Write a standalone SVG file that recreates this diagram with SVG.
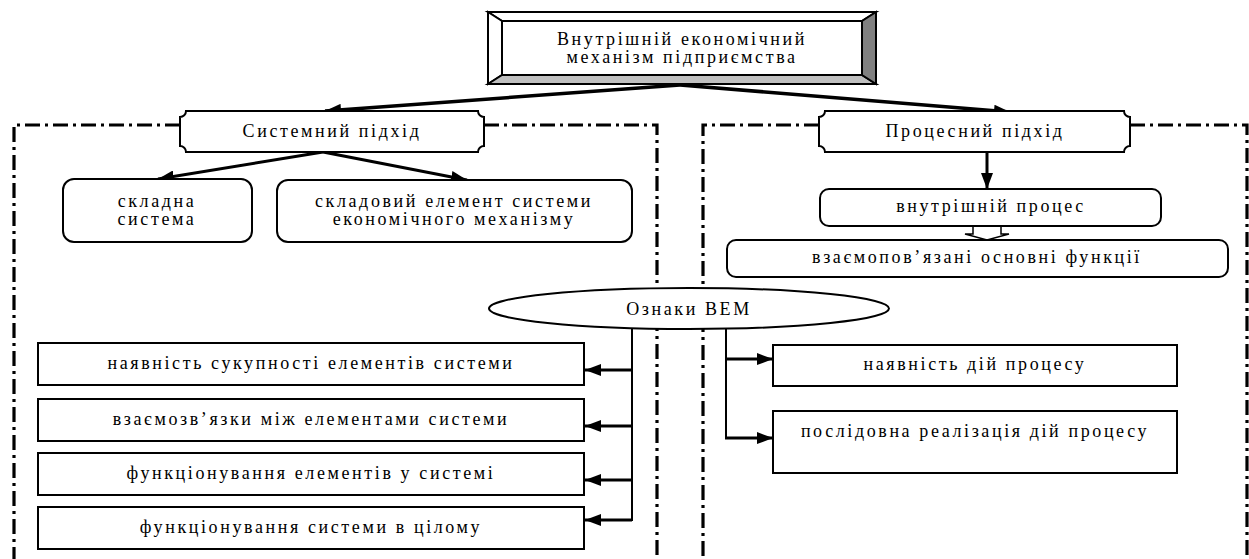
<svg xmlns="http://www.w3.org/2000/svg" width="1249" height="559" viewBox="0 0 1249 559">
<style>
text{font-family:"Liberation Serif","Times New Roman",serif;font-size:18px;letter-spacing:2.6px;fill:#000;text-anchor:middle}
.box{fill:#fff;stroke:#000;stroke-width:2}
.frame{fill:none;stroke:#000;stroke-width:3.2;stroke-dasharray:15 5 3 5}
.arr{fill:none;stroke:#000;stroke-width:3;marker-end:url(#ah)}
.bus{fill:none;stroke:#000;stroke-width:2}
</style>
<defs>
<marker id="ah" markerUnits="userSpaceOnUse" markerWidth="16" markerHeight="12" refX="16" refY="6" orient="auto">
<path d="M0,0 L16,6 L0,12 z" fill="#000"/>
</marker>
</defs>
<rect width="1249" height="559" fill="#fff"/>
<g id="frames">
<path class="frame" d="M180,125 H14 V559"/>
<path class="frame" d="M484,125 H657 V559"/>
<path class="frame" d="M819,125 H703 V559"/>
<path class="frame" d="M1130,125 H1247 V559"/>
</g>
<g id="connectors">
<path class="arr" style="stroke-width:3.5" d="M680,85 L325,111"/>
<path class="arr" style="stroke-width:3.5" d="M680,85 L1010,112"/>
<path class="arr" d="M323,152 L158,179"/>
<path class="arr" d="M323,152 L467,180"/>
<path class="arr" d="M987,152 L987,189"/>
<path d="M973,226 H1001 V234 H1009 L987,240 L965,234 H973 Z" fill="#fff" stroke="#000" stroke-width="1.5"/>
<path class="bus" d="M632,328 V521"/>
<path class="arr" d="M632,370 H585"/>
<path class="arr" d="M632,426 H585"/>
<path class="arr" d="M632,480 H585"/>
<path class="arr" d="M632,520 H585"/>
<path class="bus" d="M726,328 V438"/>
<path class="arr" d="M725,359 H773"/>
<path class="arr" d="M725,438 H773"/>
</g>
<g id="top">
<polygon points="488,12 876,12 862,21 502,21" fill="#fff" stroke="#000" stroke-width="2"/>
<polygon points="488,12 502,21 502,75 488,84" fill="#fff" stroke="#000" stroke-width="2"/>
<polygon points="488,84 502,75 862,75 876,84" fill="#c0c0c0" stroke="#000" stroke-width="2"/>
<polygon points="876,12 862,21 862,75 876,84" fill="#808080" stroke="#000" stroke-width="2"/>
<rect x="502" y="21" width="360" height="54" fill="#fff" stroke="#000" stroke-width="2"/>
<text x="682" y="45">Внутрішній економічний</text>
<text x="682" y="63">механізм підприємства</text>
</g>
<g id="system">
<path class="box" d="M186,111 H478 A6,6 0 0 0 484,117 V146 A6,6 0 0 0 478,152 H186 A6,6 0 0 0 180,146 V117 A6,6 0 0 0 186,111 Z"/>
<text x="332" y="137">Системний підхід</text>
</g>
<g id="process">
<path class="box" d="M825,111 H1124 A6,6 0 0 0 1130,117 V146 A6,6 0 0 0 1124,152 H825 A6,6 0 0 0 819,146 V117 A6,6 0 0 0 825,111 Z"/>
<text x="975" y="137">Процесний підхід</text>
</g>
<g id="complex">
<rect class="box" x="63" y="179" width="189" height="63" rx="11"/>
<text x="157" y="207">складна</text>
<text x="157" y="225">система</text>
</g>
<g id="component">
<rect class="box" x="277" y="180" width="355" height="62" rx="11"/>
<text x="454" y="207">складовий елемент системи</text>
<text x="454" y="225">економічного механізму</text>
</g>
<g id="inner">
<rect class="box" x="820" y="189" width="341" height="37" rx="9"/>
<text x="991" y="212">внутрішній процес</text>
</g>
<g id="functions">
<rect class="box" x="727" y="240" width="501" height="37" rx="9"/>
<text x="977" y="263">взаємопов’язані основні функції</text>
</g>
<g id="signs">
<ellipse class="box" cx="689" cy="308.5" rx="200" ry="20.5"/>
<text x="689" y="315">Ознаки ВЕМ</text>
</g>
<g id="l1"><rect class="box" x="38" y="343" width="546" height="42"/><text x="311" y="369">наявність сукупності елементів системи</text></g>
<g id="l2"><rect class="box" x="38" y="399" width="546" height="42"/><text x="311" y="425">взаємозв’язки між елементами системи</text></g>
<g id="l3"><rect class="box" x="38" y="453" width="546" height="42"/><text x="311" y="479">функціонування елементів у системі</text></g>
<g id="l4"><rect class="box" x="38" y="507" width="546" height="42"/><text x="311" y="533">функціонування системи в цілому</text></g>
<g id="r1"><rect class="box" x="773" y="345" width="404" height="41"/><text x="975" y="370">наявність дій процесу</text></g>
<g id="r2"><rect class="box" x="773" y="411" width="404" height="62"/><text x="975" y="437">послідовна реалізація дій процесу</text></g>
</svg>
